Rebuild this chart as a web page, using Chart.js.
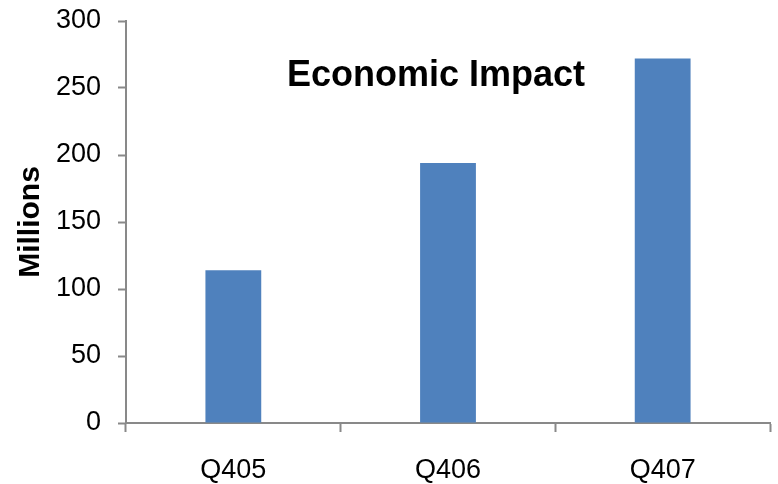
<!DOCTYPE html>
<html>
<head>
<meta charset="utf-8">
<script src="https://cdn.jsdelivr.net/npm/chart.js@4"></script>
<style>
  html, body { margin: 0; padding: 0; background: #fff; }
  #wrap { width: 778px; height: 484px; }
</style>
</head>
<body>
<div id="wrap"><canvas id="impactChart" width="778" height="484"></canvas></div>
<script>
const quarters = ['Q405', 'Q406', 'Q407'];
const impactMillions = [114, 194, 272];
const yTicks = [0, 50, 100, 150, 200, 250, 300];

const chartTitle = 'Economic Impact';
const yTitle = 'Millions';

const axisGray = '#898989';
const barBlue = '#4f81bd';
const narrow = '"Liberation Sans Narrow", "Liberation Sans", Arial, sans-serif';

// title sits inside the plot area, so draw it ourselves
const innerTitle = {
    id: 'innerTitle',
    afterDraw(chart) {
        const c = chart.ctx;
        c.save();
        c.font = 'bold 36px ' + narrow;
        c.fillStyle = '#000';
        c.textAlign = 'center';
        c.textBaseline = 'alphabetic';
        c.fillText(chartTitle, 436, 86);
        c.restore();
    }
};

const ctx = document.getElementById('impactChart').getContext('2d');

new Chart(ctx, {
    type: 'bar',
    data: {
        labels: quarters,
        datasets: [{
            label: chartTitle,
            data: impactMillions,
            backgroundColor: barBlue,
            borderWidth: 0,
            categoryPercentage: 1,
            barPercentage: 0.26
        }]
    },
    options: {
        responsive: false,
        animation: false,
        layout: { padding: { top: 21, right: 8, left: 0, bottom: 0 } },
        plugins: {
            legend: { display: false },
            tooltip: { enabled: false }
        },
        scales: {
            x: {
                grid: {
                    offset: true,
                    drawOnChartArea: false,
                    tickLength: 9,
                    tickWidth: 2,
                    color: axisGray
                },
                border: { color: axisGray, width: 2 },
                ticks: {
                    color: '#000',
                    padding: 22,
                    font: { family: narrow, size: 27 }
                },
                afterFit: s => { s.height = 61; s.paddingLeft = 0; s.paddingRight = 0; }
            },
            y: {
                min: 0,
                max: 300,
                afterBuildTicks: s => { s.ticks = yTicks.map(v => ({ value: v })); },
                grid: {
                    drawOnChartArea: false,
                    tickLength: 8,
                    tickWidth: 2,
                    color: axisGray
                },
                border: { color: axisGray, width: 2 },
                ticks: {
                    color: '#000',
                    padding: 17,
                    font: { family: narrow, size: 27 }
                },
                title: {
                    display: true,
                    text: yTitle,
                    color: '#000',
                    padding: { top: 13, bottom: 0 },
                    font: { family: narrow, size: 30, weight: 'bold' }
                },
                afterFit: s => { s.width = 126; s.paddingTop = 0; s.paddingBottom = 0; }
            }
        }
    },
    plugins: [innerTitle]
});
</script>
</body>
</html>
